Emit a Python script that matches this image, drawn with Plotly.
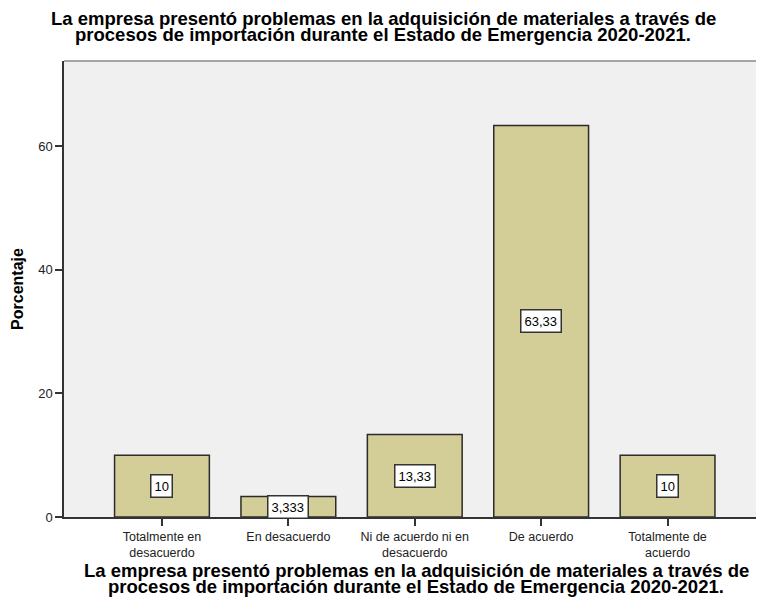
import plotly.graph_objects as go

categories = ["Totalmente en<br>desacuerdo", "En desacuerdo", "Ni de acuerdo ni en<br>desacuerdo", "De acuerdo", "Totalmente de<br>acuerdo"]
values = [10, 3.333, 13.33, 63.33, 10]
value_labels = ["10", "3,333", "13,33", "63,33", "10"]
y_ticks = [0, 20, 40, 60]

title_lines = ["La empresa presentó problemas en la adquisición de materiales a través de",
               "procesos de importación durante el Estado de Emergencia 2020-2021."]

FONT = "Liberation Sans, Arial, sans-serif"
xs = list(range(len(categories)))

# page offset of the plot div (browser default body margin)
OFF = 8
W, H = 764 - 2 * OFF, 606 - 2 * OFF
PLOT_LEFT, PLOT_TOP, PLOT_BOTTOM = 64 - OFF, 61 - OFF, 517 - OFF
PLOT_W = W - PLOT_LEFT
CAT_PX = 126.4          # pixels per category slot
X_LO = -0.775
X_HI = X_LO + PLOT_W / CAT_PX

def py(page_pix):
    return (PLOT_BOTTOM - (page_pix - OFF)) / (PLOT_BOTTOM - PLOT_TOP)

def px(page_pix):
    return ((page_pix - OFF) - PLOT_LEFT) / PLOT_W

fig = go.Figure()
fig.add_trace(go.Bar(
    x=xs, y=values, width=0.75,
    marker=dict(color="#D3CE97", line=dict(color="#2b2b2b", width=1.5)),
    hoverinfo="skip",
))

for xi, v, lab in zip(xs, values, value_labels):
    fig.add_annotation(
        x=xi, y=v / 2, xref="x", yref="y", text=lab, showarrow=False,
        font=dict(family=FONT, size=13, color="#000"),
        bgcolor="#ffffff", bordercolor="#333", borderwidth=1.5, borderpad=3,
    )

# top title
for line, pix in zip(title_lines, [18.5, 34.5]):
    fig.add_annotation(
        x=px(383), y=py(pix), xref="paper", yref="paper", text="<b>" + line + "</b>",
        showarrow=False, xanchor="center", yanchor="middle",
        font=dict(family=FONT, size=18.5, color="#000"),
    )
# bottom (x axis) title
for line, pix in zip(title_lines, [570, 586]):
    fig.add_annotation(
        x=px(416), y=py(pix), xref="paper", yref="paper", text="<b>" + line + "</b>",
        showarrow=False, xanchor="center", yanchor="middle",
        font=dict(family=FONT, size=18.5, color="#000"),
    )

fig.add_shape(type="line", xref="paper", yref="paper", x0=0, x1=1, y0=1, y1=1,
              line=dict(color="#888", width=1.5))

fig.update_layout(
    width=W, height=H,
    margin=dict(l=PLOT_LEFT, r=0, t=PLOT_TOP, b=H - PLOT_BOTTOM, autoexpand=False),
    paper_bgcolor="#ffffff", plot_bgcolor="#F0F0F0",
    showlegend=False,
    font=dict(family=FONT),
)

fig.update_xaxes(
    range=[X_LO, X_HI], tickmode="array", tickvals=xs, ticktext=categories,
    ticks="outside", ticklen=7, tickwidth=1.5, tickcolor="#333",
    showline=True, linecolor="#333", linewidth=1.5, showgrid=False, zeroline=False,
    tickfont=dict(family=FONT, size=12.5, color="#222"), automargin=False,
)
fig.update_yaxes(
    range=[0, 73.75], tickmode="array", tickvals=y_ticks,
    ticks="outside", ticklen=7, tickwidth=1.5, tickcolor="#333",
    showline=True, linecolor="#333", linewidth=1.5, showgrid=False, zeroline=False,
    tickfont=dict(family=FONT, size=13, color="#222"), automargin=False,
    title=dict(text="<b>Porcentaje</b>", font=dict(family=FONT, size=16, color="#000"), standoff=11),
)

fig.write_html("out.html")
